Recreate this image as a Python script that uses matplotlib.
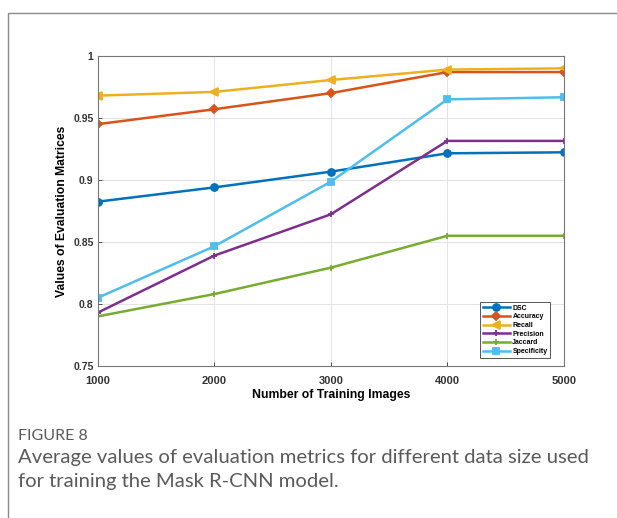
import matplotlib
matplotlib.use("Agg")
import matplotlib.pyplot as plt
from matplotlib.patches import Rectangle

images = [1000, 2000, 3000, 4000, 5000]
dsc = [0.8825, 0.894, 0.9067, 0.9215, 0.9223]
accuracy = [0.945, 0.957, 0.970, 0.987, 0.987]
recall = [0.968, 0.971, 0.9806, 0.989, 0.990]
precision = [0.793, 0.839, 0.8723, 0.9315, 0.9315]
jaccard = [0.790, 0.808, 0.8293, 0.855, 0.855]
specificity = [0.805, 0.8465, 0.8986, 0.965, 0.9667]

series = [
    ("DSC", dsc, "#0072BD", "o", 5),
    ("Accuracy", accuracy, "#D95319", "D", 4.5),
    ("Recall", recall, "#EDB120", "<", 6),
    ("Precision", precision, "#7E2F8E", "+", 4),
    ("Jaccard", jaccard, "#77AC30", "+", 4),
    ("Specificity", specificity, "#4DBEEE", "s", 4.5),
]

yticks = [0.75, 0.8, 0.85, 0.9, 0.95, 1.0]
ytick_labels = ["0.75", "0.8", "0.85", "0.9", "0.95", "1"]

fig = plt.figure(figsize=(6.17, 5.18), dpi=100)
fig.patch.set_facecolor("white")

# outer frame
fig.patches.append(Rectangle((8 / 617, -0.1), 1.2, 1 - 13 / 518 + 0.1,
                             transform=fig.transFigure, fill=False,
                             edgecolor="#8a8a8a", linewidth=1.0))

ax = fig.add_axes([0.1583, 0.2934, 0.914 - 0.1583, 0.892 - 0.2934])
for name, vals, col, mk, ms in series:
    ax.plot(images, vals, color=col, marker=mk, markersize=ms, linewidth=1.8,
            markeredgewidth=1.3, label=name)

ax.set_xlim(1000, 5000)
ax.set_ylim(0.75, 1.0)
ax.set_xticks(images)
ax.set_xticklabels([str(v) for v in images], fontsize=8, fontweight="bold",
                   family="Liberation Sans")
ax.set_yticks(yticks)
ax.set_yticklabels(ytick_labels, fontsize=7.5, fontweight="bold",
                   family="Liberation Sans")
ax.tick_params(axis="both", direction="in", length=3, width=0.6,
               colors="#333333", top=False, right=False)
ax.tick_params(axis="x", pad=7)
ax.tick_params(axis="y", pad=3)
ax.grid(True, color="#e3e3e3", linewidth=0.7)
ax.set_axisbelow(True)
for s in ax.spines.values():
    s.set_color("#777777")
    s.set_linewidth(0.8)

ax.set_xlabel("Number of Training Images", fontsize=8.8, fontweight="bold",
              family="Liberation Sans", labelpad=2)
ax.set_ylabel("Values of Evaluation Matrices", fontsize=8.7, fontweight="bold",
              family="Liberation Sans", labelpad=4)

leg = ax.legend(loc="lower right", bbox_to_anchor=(0.97, 0.027),
                prop={"family": "Liberation Sans", "weight": "bold", "size": 5},
                handlelength=4.0, handletextpad=0.3, borderpad=0.35,
                labelspacing=0.25, fancybox=False, framealpha=1,
                borderaxespad=0)
leg.get_frame().set_edgecolor("#555555")
leg.get_frame().set_linewidth(0.7)

fig.text(18 / 617, 1 - 436 / 518, "FIGURE 8", fontsize=11.5, color="#5a5a5a",
         family="Lato", va="center", ha="left")
fig.text(18 / 617, 1 - 458 / 518,
         "Average values of evaluation metrics for different data size used",
         fontsize=14.6, color="#5a5a5a", family="Lato", va="center", ha="left")
fig.text(18 / 617, 1 - 481 / 518, "for training the Mask R-CNN model.",
         fontsize=14.6, color="#5a5a5a", family="Lato", va="center", ha="left")

fig.savefig("out.png", dpi=100)
